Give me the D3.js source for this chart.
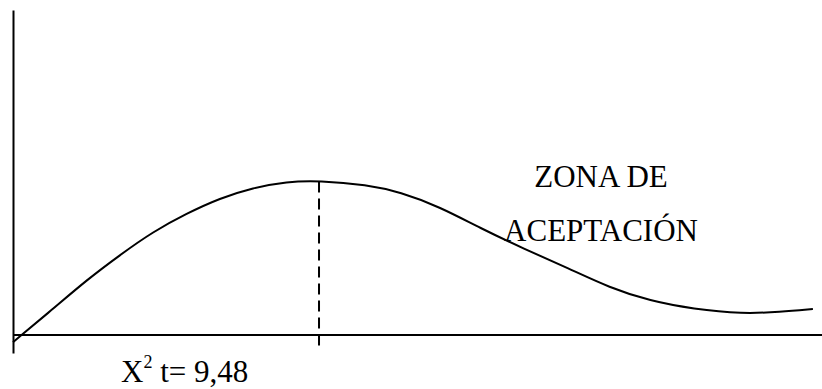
<!DOCTYPE html>
<html>
<head>
<meta charset="utf-8">
<script src="https://cdn.jsdelivr.net/npm/d3@7"></script>
<style>
  body { margin: 0; background: #fff; }
</style>
</head>
<body>
<div id="chart"></div>
<script>
// Curve (x in chi-square units, y in relative height)
var curveX = [0, 1.20, 2.28, 3.31, 4.34, 5.38, 6.41, 7.43, 8.48, 9.48, 10.97, 11.99, 13.23, 14.47, 15.83, 17.19, 18.49, 19.73, 21.07, 22.61, 23.76, 24.78];
var curveY = [-2.2, 7.7, 16.9, 24.6, 31.8, 37.4, 42.1, 45.3, 47.2, 47.5, 46.2, 44.0, 39.4, 32.9, 26.5, 20.6, 14.5, 10.5, 8.0, 6.5, 7.1, 8.0];

var critValue = 9.48;
var critLabel = "9,48";
var zoneLines = ["ZONA DE", "ACEPTACIÓN"];

var serif = "'Liberation Serif', 'Times New Roman', Times, 'DejaVu Serif', serif";

var svgWidth = 822;
var svgHeight = 389;

var svg = d3.select("#chart")
  .append("svg")
  .attr("width", svgWidth)
  .attr("height", svgHeight);

// Scales
var xScale = d3.scaleLinear()
  .domain([0, 25])
  .range([13, 820]);

var yScale = d3.scaleLinear()
  .domain([-5.54, 100])
  .range([353, 10]);

var points = curveX.map(function (d, i) { return [d, curveY[i]]; });

// Axes (plain lines, no ticks)
var bottomAxis = d3.axisBottom(xScale).tickValues([]).tickSizeOuter(0);
var leftAxis = d3.axisLeft(yScale).tickValues([]).tickSizeOuter(0);

var xAxisG = svg.append("g")
  .attr("transform", `translate(0, ${yScale(0)})`)
  .call(bottomAxis);

var yAxisG = svg.append("g")
  .attr("transform", `translate(${xScale(0)}, 0)`)
  .call(leftAxis);

svg.selectAll(".domain")
  .attr("stroke", "#000")
  .attr("stroke-width", 2);

// extend the horizontal axis to the edge
xAxisG.select(".domain").attr("d", `M${xScale(0)},0H${svgWidth}`);

// Curve
var line = d3.line()
  .x(d => xScale(d[0]))
  .y(d => yScale(d[1]))
  .curve(d3.curveBasis);

svg.append("path")
  .datum(points)
  .attr("d", line)
  .attr("fill", "none")
  .attr("stroke", "#000")
  .attr("stroke-width", 2);

// Dashed critical line
var peak = curveY[curveX.indexOf(critValue)];
svg.append("line")
  .attr("x1", xScale(critValue))
  .attr("x2", xScale(critValue))
  .attr("y1", yScale(peak) + 1)
  .attr("y2", yScale(-3.7))
  .attr("stroke", "#000")
  .attr("stroke-width", 2)
  .attr("stroke-dasharray", "11,6");

// Labels
var critText = svg.append("text")
  .attr("x", 121)
  .attr("y", 382)
  .attr("font-family", serif)
  .style("font-family", serif)
  .style("font-size", "31px");
critText.append("tspan").text("X");
critText.append("tspan")
  .attr("dy", -14)
  .style("font-size", "18px")
  .text("2");
critText.append("tspan")
  .attr("dy", 14)
  .text(" t= " + critLabel);

svg.selectAll(".zone")
  .data(zoneLines)
  .enter()
  .append("text")
  .attr("class", "zone")
  .attr("x", 601)
  .attr("y", (d, i) => 187 + i * 54)
  .attr("font-family", serif)
  .style("font-family", serif)
  .style("font-size", "31px")
  .style("text-anchor", "middle")
  .text(d => d);
</script>
</body>
</html>
